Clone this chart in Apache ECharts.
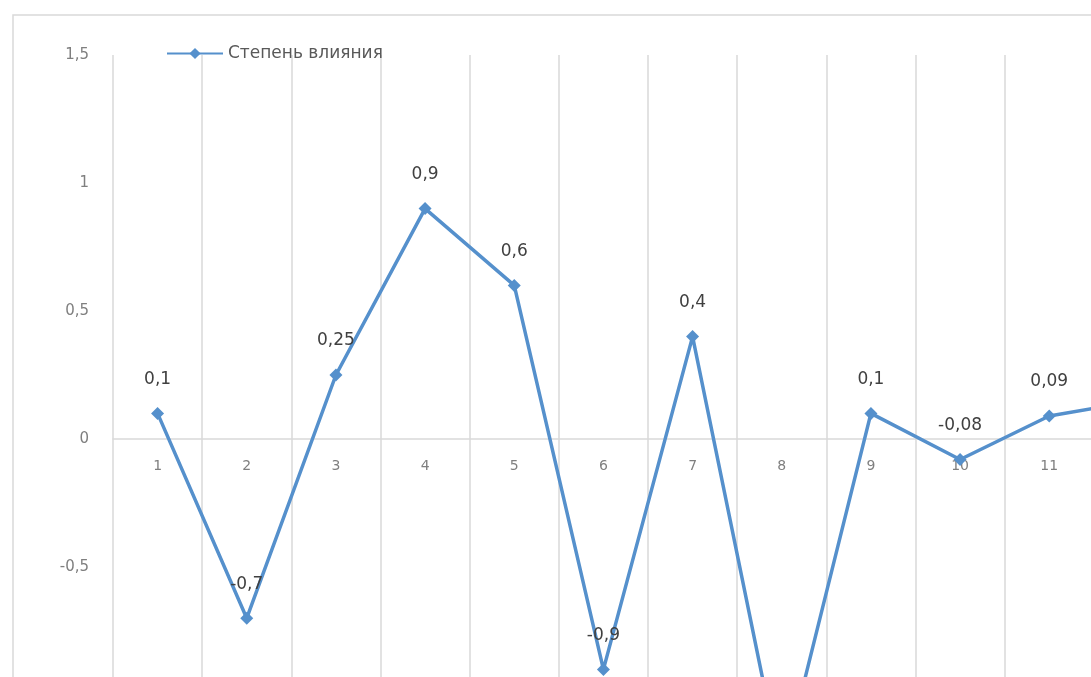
<!DOCTYPE html>
<html lang="ru">
<head>
<meta charset="utf-8">
<title>Степень влияния</title>
<script src="https://cdn.jsdelivr.net/npm/echarts@6/dist/echarts.min.js"></script>
<style>
  html, body { margin: 0; padding: 0; background: #fff; overflow: hidden; }
  /* диаграмма больше окна: справа и снизу она обрезана, как на исходной картинке */
  #main { width: 1250px; height: 900px; }
</style>
</head>
<body>
<div id="main"></div>
<script>
// данные графика
var categories = ['1', '2', '3', '4', '5', '6', '7', '8', '9', '10', '11', '12'];
var influence = [0.1, -0.7, 0.25, 0.9, 0.6, -0.9, 0.4, -1.3, 0.1, -0.08, 0.09, 0.15];
var seriesName = 'Степень влияния';

var gridHeight = 768;   // от -1,5 до 1,5

function comma(v) {
    return String(v).replace('.', ',');
}

var chart = echarts.init(document.getElementById('main'));

var option = {
    backgroundColor: '#ffffff',
    animation: false,
    textStyle: { fontFamily: 'DejaVu Sans' },
    // рамка области диаграммы
    graphic: [{
        type: 'rect',
        shape: { x: 13, y: 15, width: 1220, height: 870 },
        style: { fill: 'none', stroke: '#d9d9d9', lineWidth: 1.5 },
        silent: true
    }],
    legend: {
        left: 161,
        top: 40,
        itemWidth: 56,
        itemHeight: 14,
        textStyle: { color: '#595959', fontSize: 17 },
        data: [seriesName]
    },
    grid: {
        left: 113,
        top: 55,
        width: 1070,
        height: gridHeight
    },
    xAxis: {
        type: 'category',
        data: categories,
        boundaryGap: true,
        position: 'bottom',
        // ось проходит через ноль: сдвигаем её вверх на половину высоты
        offset: -gridHeight / 2,
        axisLine: { onZero: false, lineStyle: { color: '#d9d9d9', width: 1.5 } },
        axisTick: { show: false },
        axisLabel: { color: '#7f7f7f', fontSize: 14, margin: 20 },
        splitLine: { show: true, interval: 0, lineStyle: { color: '#d9d9d9', width: 1.5 } }
    },
    yAxis: {
        type: 'value',
        min: -1.5,
        max: 1.5,
        interval: 0.5,
        axisLine: { show: false },
        axisTick: { show: false },
        splitLine: { show: false },
        axisLabel: {
            color: '#7f7f7f',
            fontSize: 15,
            margin: 24,
            formatter: function (v) { return comma(v); }
        }
    },
    series: [{
        name: seriesName,
        type: 'line',
        data: influence,
        symbol: 'diamond',
        symbolSize: 13,
        lineStyle: { color: '#5590cc', width: 3.5 },
        itemStyle: { color: '#5590cc' },
        label: {
            show: true,
            position: 'top',
            distance: 19,
            color: '#404040',
            fontSize: 17,
            formatter: function (p) { return comma(p.value); }
        }
    }]
};

chart.setOption(option);
</script>
</body>
</html>
